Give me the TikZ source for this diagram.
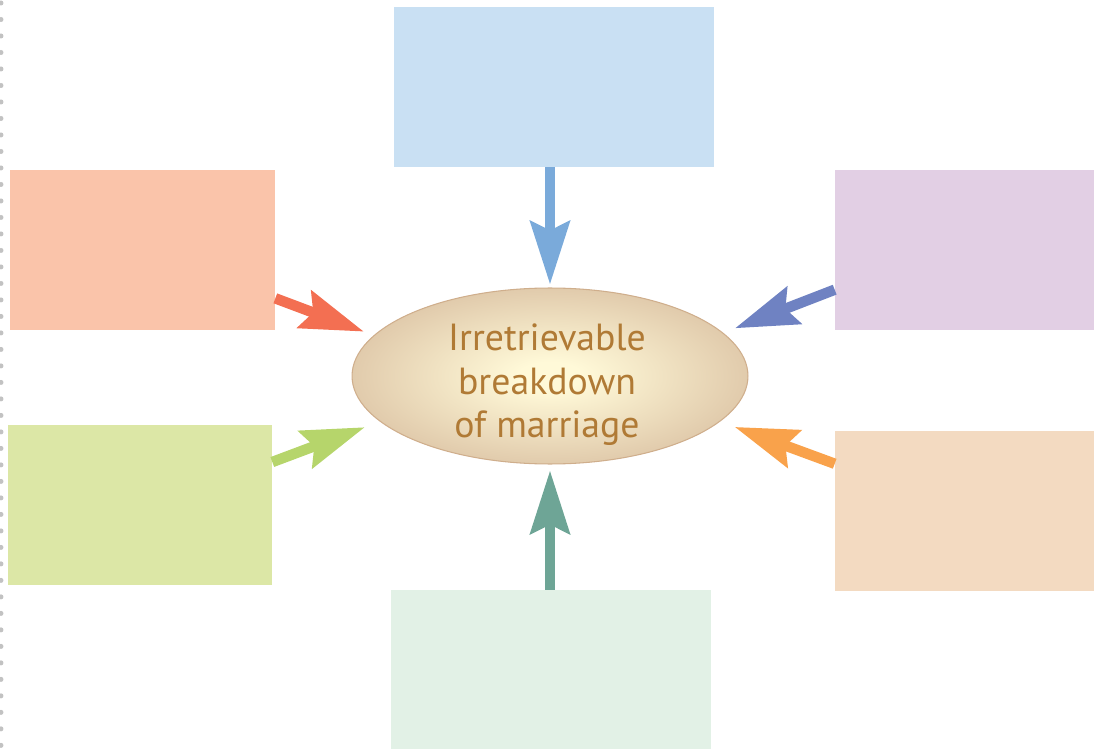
\documentclass[tikz,border=0pt]{standalone}
\usepackage{fontspec}
\setmainfont{PT Sans}
\usetikzlibrary{shapes.geometric,arrows.meta}
\definecolor{topbox}{HTML}{C9E0F3}
\definecolor{toparr}{HTML}{7AAADA}
\definecolor{ltbox}{HTML}{FAC4AA}
\definecolor{ltarr}{HTML}{F36F52}
\definecolor{lbbox}{HTML}{DCE7A6}
\definecolor{lbarr}{HTML}{B6D56B}
\definecolor{rtbox}{HTML}{E2CFE4}
\definecolor{rtarr}{HTML}{6F82C2}
\definecolor{rbbox}{HTML}{F3DAC1}
\definecolor{rbarr}{HTML}{F9A24B}
\definecolor{btbox}{HTML}{E2F1E6}
\definecolor{btarr}{HTML}{6EA596}
\definecolor{glowin}{HTML}{FFF9D8}
\definecolor{glowout}{HTML}{D4B799}
\definecolor{rim}{HTML}{CFAE8C}
\definecolor{ink}{HTML}{B07A35}
\pgfdeclareradialshading{glow}{\pgfpoint{0bp}{0bp}}{color(0bp)=(glowin); color(4bp)=(glowin); color(34bp)=(glowout); color(50bp)=(glowout)}
\tikzset{
  panel/.style={rectangle,inner sep=0pt,minimum height=3.2cm},
  push/.style={line width=0.21cm,-{Stealth[length=1.26cm,width=0.78cm,inset=0.18cm]}}
}
\begin{document}
\begin{tikzpicture}[x=0.02cm,y=-0.02cm]
  \useasboundingbox (0,0) rectangle (1094,749);
  % dotted margin
  \draw[color=black!24,line width=0.1cm,line cap=round,dash pattern=on 0pt off 0.33cm] (1,3)--(1,749);
  % boxes
  \node[panel,fill=topbox,minimum width=6.4cm] (top) at (554,87) {};
  \node[panel,fill=ltbox,minimum width=5.3cm] (lt) at (142.5,250) {};
  \node[panel,fill=lbbox,minimum width=5.28cm] (lb) at (140,505) {};
  \node[panel,fill=rtbox,minimum width=5.18cm] (rt) at (964.5,250) {};
  \node[panel,fill=rbbox,minimum width=5.18cm] (rb) at (964.5,511) {};
  \node[panel,fill=btbox,minimum width=6.4cm,minimum height=3.18cm] (bt) at (551,669.5) {};
  % centre
  \node[ellipse,minimum width=7.92cm,minimum height=3.52cm,shading=glow,draw=rim,line width=0.6pt] (core) at (550,376) {};
  \node[text=ink,align=center,font=\fontsize{21.5}{24.8}\selectfont] (title) at (547,385) {Irretrievable\\breakdown\\of marriage};
  % arrows
  \draw[push,toparr,shorten >=0.06cm] (core.north |- top.south)--(core.north);
  \draw[push,btarr,shorten >=0.12cm] (core.south |- bt.north)--(core.south);
  \draw[push,ltarr,shorten >=0.21cm] (lt.-20)--(core.167);
  \draw[push,lbarr,shorten >=0.32cm] (lb.18)--(core.195);
  \draw[push,rtarr,shorten >=0.25cm] (rt.197)--(core.14);
  \draw[push,rbarr,shorten >=0.31cm] (rb.160)--(core.-15);
\end{tikzpicture}
\end{document}
